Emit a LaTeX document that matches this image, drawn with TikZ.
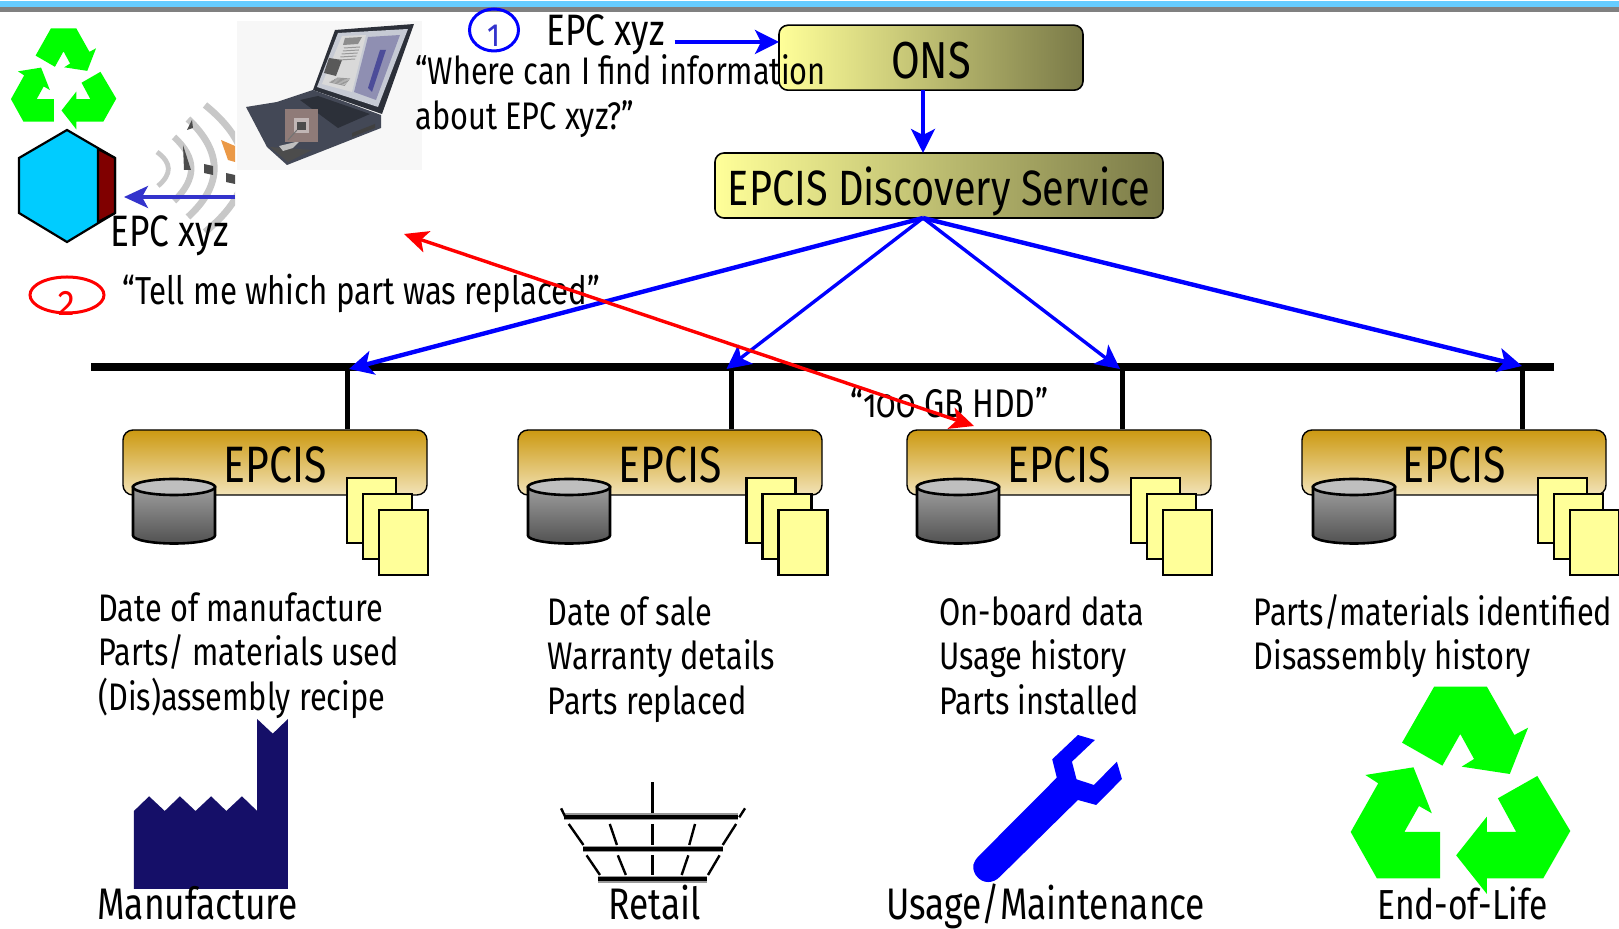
\documentclass[tikz,border=0pt]{standalone}
\usepackage{fontspec}
\setmainfont{Fira Sans}[FakeStretch=0.8,Numbers=OldStyle]
\usetikzlibrary{arrows.meta}
\definecolor{barblue}{HTML}{66CCFF}
\definecolor{bargray}{HTML}{808080}
\definecolor{yel}{HTML}{FFFF99}
\definecolor{olivedk}{HTML}{7A7A48}
\definecolor{gold}{HTML}{CC9911}
\definecolor{goldlt}{HTML}{F2E3B8}
\definecolor{rec}{HTML}{00FF00}
\definecolor{navyf}{HTML}{150F68}
\definecolor{blueb}{HTML}{0000FF}
\definecolor{blued}{HTML}{3333CC}
\definecolor{hexc}{HTML}{00CCFF}
\definecolor{wave}{HTML}{C8C8C8}
\definecolor{lapdark}{HTML}{2C3039}
\definecolor{lapbase}{HTML}{434856}
\definecolor{lapscreen}{HTML}{C6CAD4}
\tikzset{
 txt/.style={inner sep=0pt,anchor=base west,font=\fontsize{19.2}{19}\selectfont},
 txtb/.style={inner sep=0pt,anchor=base west,font=\fontsize{22}{22}\selectfont},
 big/.style={inner sep=0pt,anchor=base west,font=\fontsize{22.1}{22}\selectfont},
 topbox/.style={draw=black,line width=.8pt,rounded corners=4.5pt,left color=yel,right color=olivedk,inner sep=0pt,text depth=0pt},
 epbox/.style={draw=black,line width=.7pt,rounded corners=5pt,top color=gold,bottom color=goldlt,minimum width=152pt,minimum height=32.5pt,inner sep=0pt,text height=20pt,text depth=0pt,font=\fontsize{25.6}{25}\selectfont},
 bluearrow/.style={draw=blueb,line width=1.7pt,-{Stealth[length=12pt,width=12pt,inset=3pt]}},
 redarrow/.style={draw=red,line width=1.7pt,{Stealth[length=12pt,width=11pt,inset=3pt]}-{Stealth[length=12pt,width=11pt,inset=3pt]}},
 stub/.style={draw=black,line width=2.5pt},
 doc/.style={draw=black,line width=1.2pt,fill=yel},
 rib/.style={draw=black,line width=1.2pt},
 rim/.style={draw=black,line width=1.9pt},
 rimhalo/.style={draw=black!40,line width=3.2pt},
 wavearc/.style={draw=wave},
}
\newcommand\recyclepath{
 \fill[rec] (1165,50)--(1280,50)--(1340,195)--(1370,173)--(1330,312)--(1225,290)--(1252,267)--(1222,192)--(1183,287)--(1095,218)--cycle;
 \fill[rec] (1120,292)--(1160,430)--(1132,408)--(1100,486)--(1178,486)--(1178,625)--(1040,625)--(983,486)--(1043,340)--(1015,315)--cycle;
 \fill[rec] (1390,318)--(1462,483)--(1403,625)--(1280,625)--(1280,672)--(1213,556)--(1280,440)--(1280,486)--(1344,486)--(1304,385)--cycle;
}
\newcommand\epcisunit[4]{% name, box dx, cyl dx, doc dx
 \node[epbox] (#1) at ({275+#2},462.5) {EPCIS};
 \begin{scope}[shift={(#3,0)}]
  \path[top color=black!38,bottom color=black!68,draw=black,line width=1.3pt]
   (133,487) -- (133,535.5) arc[start angle=180,end angle=0,x radius=41,y radius=8] -- (215,487) -- cycle;
  \draw[fill=black!25,line width=1.3pt] (174,487) ellipse[x radius=41,y radius=8];
 \end{scope}
 \begin{scope}[shift={(#4,0)}]
  \draw[doc] (347,478) rectangle (396,543);
  \draw[doc] (363,494) rectangle (412,559);
  \draw[doc] (379,510) rectangle (428,575);
 \end{scope}
}
\begin{document}
\begin{tikzpicture}[x=0.5pt,y=-0.5pt]
\useasboundingbox (0,0) rectangle (1619,929);
\fill[white] (0,0) rectangle (1619,929);
% top bar
\fill[barblue] (0,1) rectangle (1619,7);
\fill[bargray] (0,7) rectangle (1619,12.5);
% small recycle
\begin{scope}[shift={(-205.2,20.2)},xscale=.2199,yscale=.1624] \recyclepath \end{scope}
% big recycle
\begin{scope}[shift={(900,670)},xscale=.4585,yscale=.3333] \recyclepath \end{scope}
% hexagon tag
\draw[black,line width=1.1pt,fill=hexc] (67,130)--(115,158)--(115,213)--(67,242)--(19,213)--(19,158)--cycle;
\draw[black,line width=1.1pt,fill=black!50!red] (98,149)--(115,158)--(115,213)--(98,222)--cycle;
% radio waves
\begin{scope}
\clip (130,90) rectangle (235,240);
\draw[wavearc,line width=2.4pt] (157,152) .. controls (172,163) and (172,174) .. (158,186);
\draw[wavearc,line width=3.2pt] (174,137) .. controls (197,158) and (197,179) .. (174,201);
\draw[wavearc,line width=3.4pt] (188,119) .. controls (223,152) and (223,185) .. (188,217);
\draw[wavearc,line width=3.4pt] (205,105) .. controls (257,147) and (257,190) .. (205,232);
\fill[black!70] (187,130)--(192,120)--(193,128)--cycle;
\fill[black!70] (183,145)--(191,170)--(184,170)--cycle;
\fill[black!70] (204,164)--(213,166)--(213,175)--(204,173)--cycle;
\fill[black!70] (226,173)--(235,175)--(235,184)--(226,182)--cycle;
\fill[orange!60!brown!80] (221,140)--(235,146)--(235,162)--(228,160)--cycle;
\end{scope}
% laptop
\fill[black!3] (237,21) rectangle (422,170);
\fill[lapdark] (335,30)--(414,24)--(382,114)--(313,90)--cycle;
\fill[lapscreen] (338,33)--(408,29)--(378,107)--(317,87)--cycle;
\fill[white!85!black] (342,36)--(366,35)--(352,92)--(322,84)--cycle;
\fill[black!65] (329,58)--(342,60)--(336,76)--(324,73)--cycle;
\fill[black!45] (345,38)--(362,37)--(358,44)--(343,45)--cycle;
\foreach \i in {0,1,2,3,4} {\draw[black!40,line width=.5pt] ({344-\i*1.2},{48+\i*3}) -- ({360-\i*1.2},{47+\i*3});}
\foreach \i in {0,1,2,3,4,5} {\draw[black!40,line width=.5pt] ({337-\i*1.5},{78+\i*0.8}) -- ({350-\i*1},{79+\i*1.3});}
\fill[blue!20!white!70!black] (368,37)--(400,35)--(376,100)--(354,92)--cycle;
\fill[blue!50!white!60!black] (380,50)--(386,50)--(372,92)--(368,88)--cycle;
\fill[lapbase] (246,107)--(277,102)--(313,90)--(381,115)--(381,128)--(287,165)--(267,147)--cycle;
\fill[lapdark] (300,100)--(318,96)--(370,114)--(338,128)--cycle;
\fill[black!70] (270,147)--(312,150)--(288,162)--cycle;
\fill[black!25] (279,146)--(300,141)--(293,148)--(283,151)--cycle;
\fill[black!75] (352,133)--(375,124)--(375,128)--(352,137)--cycle;
\definecolor{rfid}{HTML}{8F7B78}
\fill[rfid] (285,109) rectangle (318,142);
\fill[rfid!55!white] (294,118) rectangle (309,133);
\fill[black!70] (297,122) rectangle (306,130);
\draw[black!55,line width=.5pt] (297,130) -- (288,140);
% top texts
\draw[blueb,line width=1.5pt] (494,30) ellipse[x radius=24.5,y radius=21];
\node[inner sep=0pt,text=blued,font=\fontsize{19}{19}\selectfont] (n1) at (494,36) {1};
\node[txtb] (epctop) at (546,46) {EPC xyz};
\node[topbox,minimum width=152pt,minimum height=32.5pt,text height=21pt,font=\fontsize{26}{26}\selectfont] (ons) at (931,57.7) {ONS};
\node[txt] (where) at (415,85) {“Where can I find information};
\node[txt] (about) at (415,130) {about EPC xyz?”};
\node[topbox,minimum width=224pt,minimum height=32.5pt,text height=20pt,font=\fontsize{24.8}{24.8}\selectfont] (ds) at (939,185.5) {EPCIS Discovery Service};
\coordinate (epcout) at (674.5,42);
\coordinate (onsin) at (779,42);
\coordinate (onsout) at (923,90);
\coordinate (dsin) at (923,153);
\coordinate (dsout) at (923,218);
\draw[bluearrow] (epcout) -- (onsin);
\draw[bluearrow] (onsout) -- (dsin);
% bus
\fill[black] (91,363) rectangle (1554,371);
\coordinate (bus1) at (347,367);
\coordinate (bus2) at (731,367);
\coordinate (bus3) at (1122,367);
\coordinate (bus4) at (1522,367);
% units
\epcisunit{box1}{0}{0}{0}
\epcisunit{box2}{395}{395}{399.6}
\epcisunit{box3}{784}{784}{784}
\epcisunit{box4}{1179}{1180}{1191}
\draw[stub] (bus1) -- (bus1 |- box1.north);
\draw[stub] (bus2) -- (bus2 |- box2.north);
\draw[stub] (bus3) -- (bus3 |- box3.north);
\draw[stub] (bus4) -- (bus4 |- box4.north);
\coordinate (a1) at (349,369);
\coordinate (a2) at (726.5,369);
\coordinate (a3) at (1120,369);
\coordinate (a4) at (1522,366);
\draw[bluearrow,line width=2.2pt] (dsout) -- (a1);
\draw[bluearrow] (dsout) -- (a2);
\draw[bluearrow] (dsout) -- (a3);
\draw[bluearrow,line width=2.2pt] (dsout) -- (a4);
% tag arrow and labels
\coordinate (waveout) at (235,197);
\coordinate (tagin) at (124,197);
\draw[draw=blued,line width=1.7pt,-{Stealth[length=12pt,width=11pt,inset=3pt]}] (waveout) -- (tagin);
\node[txtb] (epctag) at (110,247) {EPC xyz};
\draw[red,line width=1.5pt] (67,295) ellipse[x radius=37,y radius=18];
\node[inner sep=0pt,text=red,font=\fontsize{21}{21}\selectfont] (n2) at (67,303) {2};
\node[txt,font=\fontsize{19.5}{19}\selectfont] (tell) at (122,305) {“Tell me which part was replaced”};
\node[txt,font=\fontsize{20}{20}\selectfont] (hdd) at (850,418) {“100 GB HDD”};
\coordinate (r1) at (404,234);
\coordinate (r2) at (974,426);
\draw[redarrow] (r1) -- (r2);
% column texts
\node[txt] at (98,621.5) {Date of manufacture};
\node[txt] at (98,665.5) {Parts/ materials used};
\node[txt] at (98,711) {(Dis)assembly recipe};
\node[txt] at (547.5,625.5) {Date of sale};
\node[txt] at (547.5,670) {Warranty details};
\node[txt] at (547.5,714.5) {Parts replaced};
\node[txt] at (939,625.5) {On-board data};
\node[txt] at (939,670) {Usage history};
\node[txt] at (939,714.5) {Parts installed};
\node[txt] at (1253.5,625.5) {Parts/materials identified};
\node[txt] at (1253.5,670) {Disassembly history};
% factory
\begin{scope}[shift={(100,700)},xscale=.4464,yscale=.3333]
\fill[navyf] (76,567)--(76,333)--(110,289)--(145,333)--(179,289)--(214,333)--(249,289)--(283,333)--(318,289)--(352,333)--(352,57)--(387,101)--(421,57)--(421,567)--cycle;
\end{scope}
% basket
\begin{scope}[shift={(100,700)},xscale=.4464,yscale=.3333]
\draw[rimhalo] (1040,350)--(1430,350);
\draw[rimhalo] (1083,447)--(1395,447);
\draw[rimhalo] (1115,538)--(1360,538);
\draw[rib] (1238,247)--(1238,340);
\draw[rim] (1040,350)--(1430,350);
\draw[rib] (1033,325)--(1042,350);
\draw[rib] (1445,325)--(1432,352);
\draw[rim] (1083,447)--(1395,447);
\draw[rim] (1115,538)--(1360,538);
\draw[rib] (1050,372)--(1083,435);
\draw[rib] (1142,372)--(1158,435);
\draw[rib] (1238,372)--(1238,435);
\draw[rib] (1333,372)--(1320,435);
\draw[rib] (1425,372)--(1395,435);
\draw[rib] (1090,466)--(1120,525);
\draw[rib] (1160,466)--(1178,525);
\draw[rib] (1238,466)--(1238,525);
\draw[rib] (1318,466)--(1303,525);
\draw[rib] (1388,466)--(1362,525);
\end{scope}
% wrench
\begin{scope}[shift={(900,670)},xscale=.4585,yscale=.3333]
\fill[blueb] (388,195)--(425,210)--(375,275)--(385,328)--(423,345)--(473,275)--(484,327)--(428,405)--(388,390)--(218,620) .. controls (205,640) and (180,645) .. (165,615) .. controls (155,590) and (160,575) .. (172,558)--(342,323)--(332,268)--cycle;
\end{scope}
% bottom labels
\node[big] (l1) at (97,920) {Manufacture};
\node[big] (l2) at (608,920) {Retail};
\node[big] (l3) at (886,920) {Usage/Maintenance};
\node[big,font=\fontsize{21}{21}\selectfont] (l4) at (1377,920) {End-of-Life};
\end{tikzpicture}
\end{document}
